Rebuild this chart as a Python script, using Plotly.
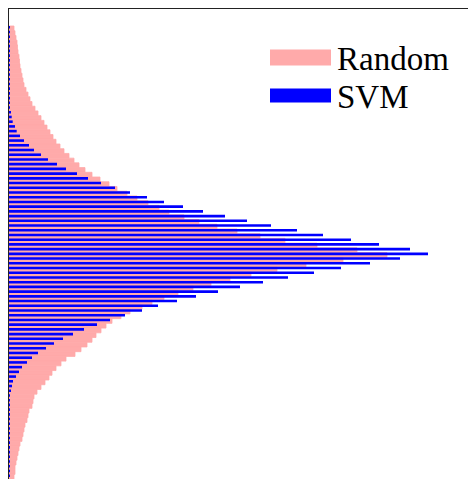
import plotly.graph_objects as go

# bin index (0 = top bin)
bins = list(range(96))

random_vals = [5, 6, 7, 8, 8.5, 9, 10, 10.5, 11, 12,
               13, 14, 15, 17, 19, 21, 23, 26, 29, 32,
               35, 38, 41, 44, 47, 51, 55, 60, 65, 70,
               76, 83, 91, 100, 108, 118, 128, 139, 150, 160,
               175, 190, 208, 228, 251, 276, 308, 348, 378, 334,
               297, 268, 242, 221, 202, 184, 169, 155, 143, 133,
               121, 112, 103, 97, 92, 87, 83, 78, 72, 66,
               57, 52, 47, 43, 40, 36, 32, 28, 25, 24,
               23, 20, 19, 18, 16, 15, 14, 13, 11, 10,
               9, 8, 7, 6, 6, 5]

svm_vals = [0.6] * 17 + [1, 1.7, 2.7, 3.7, 6, 7.7, 11, 15, 20, 25, 32, 39, 48,
                         57, 68, 79, 92, 106, 121, 138, 155, 174, 194, 216, 238,
                         262, 288, 314, 342, 370, 401, 419, 391, 361, 332, 305,
                         279, 254, 231, 209, 187, 168, 149, 133, 116, 101, 88,
                         75, 64, 54, 45, 37, 29, 23, 18, 13, 10, 7, 4, 3, 2, 1]
svm_vals = svm_vals + [0.6] * (96 - len(svm_vals))

series_names = ["Random", "SVM"]
colors = ["#ffaaaa", "#0000ff"]

# page body has an 8px margin; plot area starts at screen (9, 9)
PX0, PY0, PW, PH = 9, 9, 475, 478

def px(x):
    return (x - PX0) / PW

def py(y):
    return 1 - (y - PY0) / PH

fig = go.Figure()
fig.add_trace(go.Bar(y=bins, x=random_vals, orientation="h", width=1.0,
                     marker=dict(color=colors[0], line=dict(width=0.8, color=colors[0])),
                     name=series_names[0], showlegend=False))
fig.add_trace(go.Bar(y=bins, x=svm_vals, orientation="h", width=0.55, offset=-0.5,
                     marker=dict(color=colors[1], line=dict(width=0)),
                     name=series_names[1], showlegend=False))

# legend drawn manually (wide swatches)
leg_y = [57.5, 95.5]
for i, (nm, c) in enumerate(zip(series_names, colors)):
    h = 8 if i == 0 else 7
    fig.add_shape(type="rect", xref="paper", yref="paper",
                  x0=px(270), x1=px(331),
                  y0=py(leg_y[i] - h), y1=py(leg_y[i] + h),
                  fillcolor=c, line=dict(width=0))
    fig.add_annotation(xref="paper", yref="paper", x=px(335),
                       y=py(leg_y[i] + 1), text=nm, showarrow=False,
                       xanchor="left", yanchor="middle",
                       font=dict(family="Liberation Serif", size=33, color="black"))

fig.update_layout(
    width=476, height=479,
    margin=dict(l=1, r=0, t=1, b=0),
    plot_bgcolor="white", paper_bgcolor="white",
    barmode="overlay",
    xaxis=dict(range=[0, 475], side="top", showline=True, linecolor="#222222",
               linewidth=1.6, showgrid=False, zeroline=False, showticklabels=False,
               ticks=""),
    yaxis=dict(range=[97.17, -4.10], showline=True, linecolor="#222222",
               linewidth=1.8, showgrid=False, zeroline=False, showticklabels=False,
               ticks=""),
)
fig.write_html("out.html")
